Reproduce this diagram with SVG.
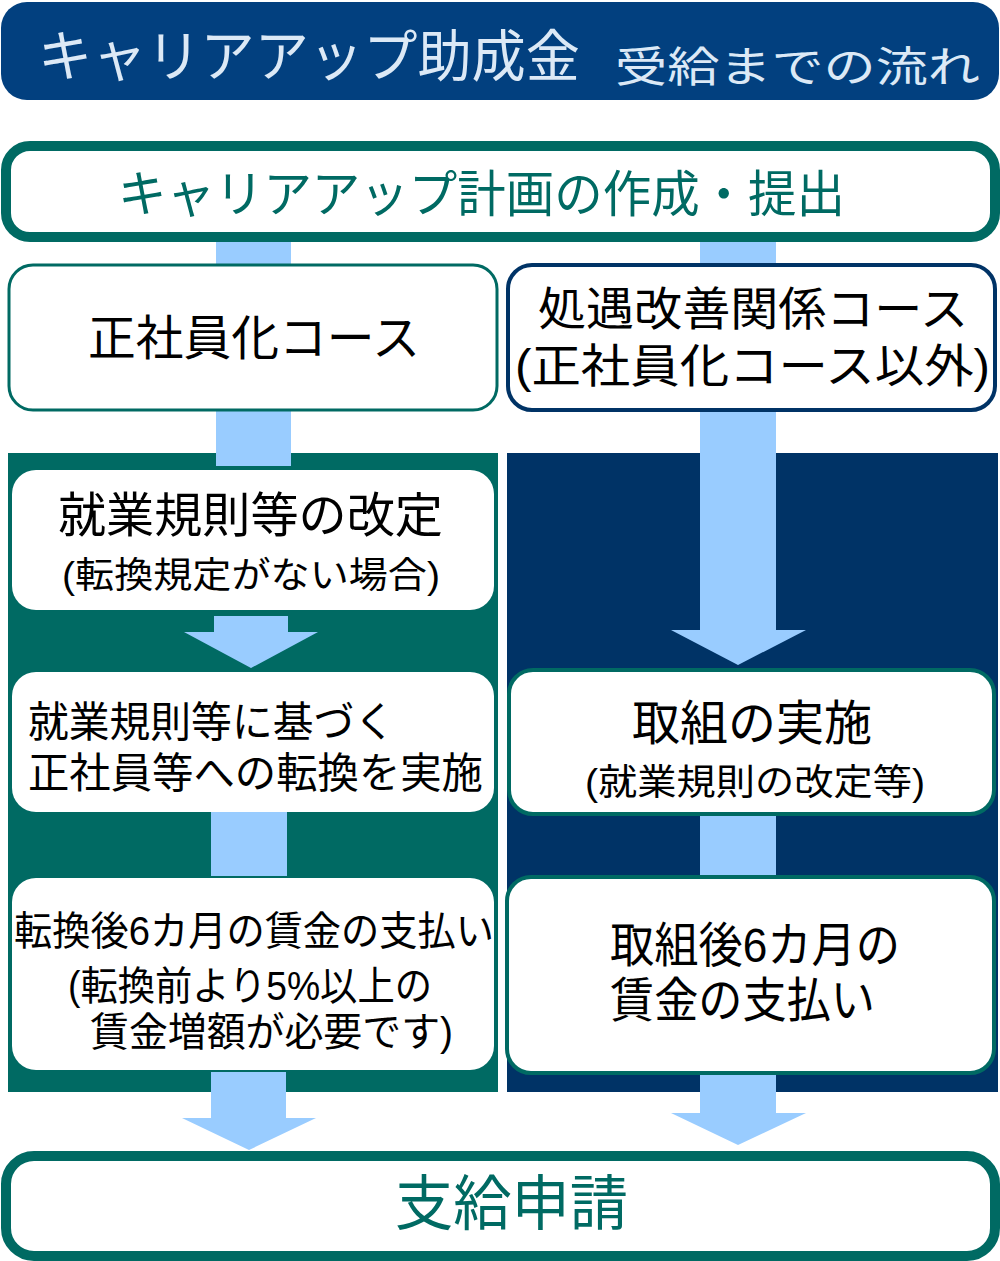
<svg xmlns="http://www.w3.org/2000/svg" width="1000" height="1261" viewBox="0 0 1000 1261">
<style>
text{font-family:"Liberation Sans","Noto Sans CJK JP",sans-serif;}
.blk{fill:#000;}
.teal{fill:#006a63;}
.conn{fill:#99ccff;}
.wbox{fill:#fff;}
</style>
<rect x="0" y="0" width="1000" height="1261" fill="#fff"/>
<g id="title">
<rect x="1" y="2" width="998" height="98" rx="26" fill="#02407f"/>
<text x="38" y="76" font-size="56" fill="#dce9f6" textLength="542" lengthAdjust="spacingAndGlyphs">キャリアアップ助成金</text>
<text x="615" y="82" font-size="42" fill="#dce9f6" textLength="365" lengthAdjust="spacingAndGlyphs">受給までの流れ</text>
</g>
<g id="panels">
<rect x="8" y="453" width="490" height="639" fill="#006a63"/>
<rect x="507" y="453" width="491" height="639" fill="#003366"/>
</g>
<g id="connectors">
<rect class="conn" x="216" y="238" width="75" height="30"/>
<rect class="conn" x="700" y="238" width="76" height="30"/>
<rect class="conn" x="216" y="408" width="75" height="58"/>
<polygon class="conn" points="700,408 776,408 776,630 806,630 738,665 671,630 700,630"/>
<polygon class="conn" points="214,616 288,616 288,632 318,632 251,668 184,632 214,632"/>
<rect class="conn" x="211" y="812" width="76" height="64"/>
<rect class="conn" x="700" y="812" width="76" height="66"/>
<polygon class="conn" points="211,1072 286,1072 286,1118 316,1118 249,1150 182,1118 211,1118"/>
<polygon class="conn" points="700,1072 776,1072 776,1113 806,1113 738,1145 671,1113 700,1113"/>
</g>
<g id="plan">
<rect x="6" y="146" width="989" height="91" rx="24" fill="#fff" stroke="#006a63" stroke-width="10"/>
<text class="teal" x="118" y="212" font-size="50" textLength="727" lengthAdjust="spacingAndGlyphs">キャリアアップ計画の作成・提出</text>
</g>
<g id="course-seishain">
<rect x="9" y="265" width="488" height="145" rx="24" fill="#fff" stroke="#006a63" stroke-width="3"/>
<text class="blk" x="88" y="355" font-size="48" textLength="332" lengthAdjust="spacingAndGlyphs">正社員化コース</text>
</g>
<g id="course-shogu">
<rect x="508" y="265" width="487" height="145" rx="24" fill="#fff" stroke="#003366" stroke-width="4"/>
<text class="blk" font-size="46"><tspan x="538" y="325" textLength="430" lengthAdjust="spacingAndGlyphs">処遇改善関係コース</tspan><tspan x="515" y="382" textLength="475" lengthAdjust="spacingAndGlyphs">(正社員化コース以外)</tspan></text>
</g>
<g id="kaitei">
<rect class="wbox" x="12" y="470" width="482" height="140" rx="24"/>
<text class="blk"><tspan x="58" y="532" font-size="48" textLength="385" lengthAdjust="spacingAndGlyphs">就業規則等の改定</tspan><tspan x="62" y="588" font-size="36" textLength="378" lengthAdjust="spacingAndGlyphs">(転換規定がない場合)</tspan></text>
</g>
<g id="tenkan">
<rect class="wbox" x="12" y="672" width="482" height="140" rx="24"/>
<text class="blk" font-size="42"><tspan x="28" y="737" textLength="367" lengthAdjust="spacingAndGlyphs">就業規則等に基づく</tspan><tspan x="28" y="788" textLength="455" lengthAdjust="spacingAndGlyphs">正社員等への転換を実施</tspan></text>
</g>
<g id="torikumi">
<rect x="509" y="670" width="485" height="144" rx="24" fill="#fff" stroke="#006a63" stroke-width="4"/>
<text class="blk"><tspan x="632" y="740" font-size="48" textLength="240" lengthAdjust="spacingAndGlyphs">取組の実施</tspan><tspan x="585" y="795" font-size="36" textLength="340" lengthAdjust="spacingAndGlyphs">(就業規則の改定等)</tspan></text>
</g>
<g id="chingin-left">
<rect class="wbox" x="12" y="878" width="482" height="192" rx="24"/>
<text class="blk" font-size="40"><tspan x="14" y="945" textLength="480" lengthAdjust="spacingAndGlyphs">転換後6カ月の賃金の支払い</tspan><tspan x="68" y="1000" textLength="364" lengthAdjust="spacingAndGlyphs">(転換前より5%以上の</tspan><tspan x="90" y="1046" textLength="363" lengthAdjust="spacingAndGlyphs">賃金増額が必要です)</tspan></text>
</g>
<g id="chingin-right">
<rect x="507" y="877" width="487" height="196" rx="24" fill="#fff" stroke="#006a63" stroke-width="4"/>
<text class="blk" font-size="48"><tspan x="610" y="962" textLength="290" lengthAdjust="spacingAndGlyphs">取組後6カ月の</tspan><tspan x="610" y="1017" textLength="265" lengthAdjust="spacingAndGlyphs">賃金の支払い</tspan></text>
</g>
<g id="shinsei">
<rect x="6" y="1156" width="989" height="100" rx="28" fill="#fff" stroke="#006a63" stroke-width="10"/>
<text class="teal" x="395" y="1225" font-size="60" textLength="233" lengthAdjust="spacingAndGlyphs">支給申請</text>
</g>
</svg>
